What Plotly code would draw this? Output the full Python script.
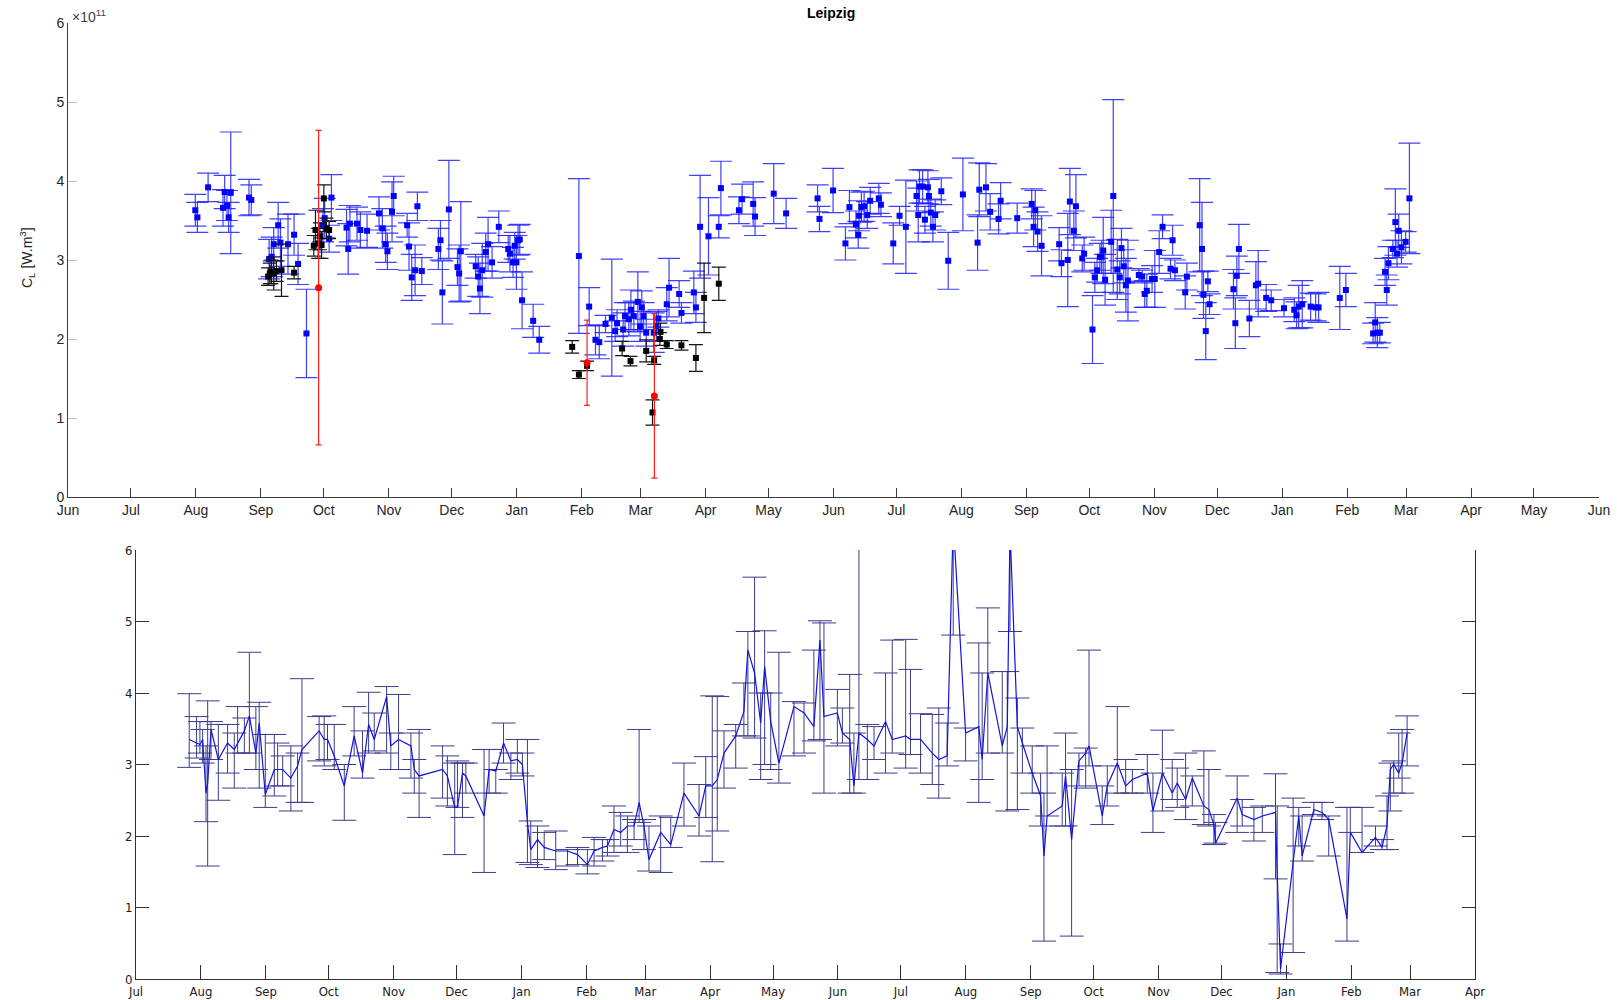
import pandas as pd
import plotly.graph_objects as go

BASE = pd.Timestamp("2012-06-01")

# ---------------- top panel (days since 2012-06-01, values in 1e11) -------------
blue_day = [60.7, 61.7, 66.8, 73.9, 74.7, 75.8, 76.6, 77.6, 86.3, 87.4, 95.9, 97.1, 98.1, 100.2,
            101.3, 104.9, 107.8, 109.7, 113.7, 121.6, 122.4, 124.5, 125.6, 132.8, 133.6, 134.4,
            137.8, 139.4, 142.6, 148.3, 149.9, 151.5, 152.3, 154.5, 155.3, 161.7, 162.6, 163.9,
            165.5, 166.6, 168.7, 176.6, 177.6, 178.5, 181.6, 185.7, 186.5, 187.3, 194.4, 195.6,
            196.4, 197.5, 199.2, 200.3, 202.2, 205.4, 209.9, 210.7, 212.2, 213.0, 213.8, 214.6,
            215.4, 216.5, 221.8, 224.7,
            243.6, 248.5, 251.5, 253.3, 256.3, 259.3, 260.9, 261.8, 264.7, 265.6, 267.4, 268.4,
            269.8, 271.7, 272.8, 273.6, 274.5, 275.7, 279.3, 280.6, 281.5, 285.5, 286.6, 291.4,
            292.5, 298.4, 299.4, 301.4, 305.4, 310.3, 311.3, 319.9, 321.4, 326.7, 327.6, 336.5,
            342.4, 357.4, 358.3, 364.8, 370.7, 372.6, 375.7, 376.8, 377.2, 378.3, 379.6, 381.1,
            382.5, 386.6, 387.6, 393.5, 396.5, 399.5, 404.6, 405.4, 406.0, 407.5, 408.6, 410.0,
            410.5, 411.4, 412.4, 413.5, 416.4, 419.7, 426.7, 433.7, 434.5, 437.7, 439.7, 443.7,
            444.7, 452.6, 459.5, 460.4, 461.2, 462.3, 464.2,
            472.6, 473.7, 476.7, 477.7, 479.6, 480.6, 483.6, 484.5, 488.5, 489.6, 490.7, 492.0,
            492.8, 493.6, 494.5, 497.4, 498.4, 500.3, 501.5, 502.3, 503.4, 504.4, 505.4, 510.6,
            512.2, 513.4, 514.4, 516.9, 518.2, 520.3, 521.9, 525.7, 526.7, 527.8, 532.7, 533.5,
            539.6, 540.7, 541.4, 542.5, 543.5, 544.3, 555.7, 556.6, 557.3, 558.3, 563.3, 566.4,
            567.5, 571.3, 573.7, 579.8, 584.7, 585.8, 586.8, 588.5, 592.5, 594.9, 596.3, 606.4,
            609.3, 622.3, 623.3, 624.3, 625.5, 628.0, 628.8, 629.6, 631.7, 632.9, 633.7, 634.5,
            635.8, 637.8, 639.6]
blue_val = [3.63, 3.54, 3.92, 3.66, 3.86, 3.69, 3.54, 3.85, 3.79, 3.76, 3.01, 3.04, 3.20, 3.44,
            3.22, 3.20, 3.32, 2.95, 2.07, 3.44, 3.53, 3.27, 3.79, 3.41, 3.14, 3.46,
            3.46, 3.38, 3.37, 3.59, 3.40, 3.20, 3.11, 3.61, 3.81, 3.44, 3.17, 2.78,
            2.87, 3.68, 2.86, 3.14, 3.25, 2.59, 3.64, 2.91, 2.83, 3.11, 2.92, 2.79,
            2.64, 2.87, 3.10, 3.20, 2.97, 3.42, 3.14, 3.08, 2.97, 3.18, 2.97, 3.25,
            3.26, 2.49, 2.23, 1.99,
            3.05, 2.41, 1.99, 1.96, 2.19, 2.27, 2.10, 2.20, 2.12, 2.29, 2.25, 2.37,
            2.29, 2.47, 2.16, 2.40, 2.29, 2.08, 2.08, 2.16, 2.26, 2.44, 2.65, 2.57,
            2.33, 2.59, 2.40, 3.42, 3.30, 3.42, 3.91, 3.63, 3.77, 3.71, 3.55, 3.84,
            3.59, 3.78, 3.52, 3.88, 3.21, 3.67, 3.45, 3.32, 3.56, 3.67, 3.68, 3.57,
            3.75, 3.78, 3.70, 3.21, 3.56, 3.42, 3.81, 3.57, 3.93, 3.93, 3.51, 3.92,
            3.81, 3.60, 3.42, 3.57, 3.87, 2.99, 3.83, 3.22, 3.89, 3.92, 3.61, 3.52,
            3.75, 3.53, 3.71, 3.42, 3.63, 3.36, 3.18,
            3.20, 2.96, 3.00, 3.74, 3.37, 3.68, 3.02, 3.08, 2.12, 2.78, 2.87, 3.04,
            3.04, 3.12, 2.75, 3.23, 3.81, 2.88, 2.78, 3.15, 2.92, 2.68, 2.74, 2.81,
            2.79, 2.57, 2.61, 2.76, 2.76, 3.10, 3.42, 2.89, 3.25, 2.87, 2.59, 2.79,
            3.44, 3.14, 2.56, 2.10, 2.73, 2.44, 2.63, 2.20, 2.80, 3.14, 2.26, 2.68,
            2.70, 2.52, 2.49, 2.39, 2.37, 2.30, 2.41, 2.44, 2.41, 2.40, 2.40, 2.52,
            2.62, 2.07, 2.21, 2.08, 2.08, 2.85, 2.62, 2.96, 3.14, 3.48, 3.08, 3.37,
            3.16, 3.23, 3.78]
blue_err = [0.20, 0.19, 0.18, 0.23, 0.21, 0.19, 0.19, 0.77, 0.23, 0.19, 0.25, 0.25, 0.21, 0.29,
            0.30, 0.38, 0.26, 0.26, 0.56, 0.21, 0.25, 0.17, 0.29, 0.23, 0.32, 0.23,
            0.21, 0.23, 0.21, 0.21, 0.25, 0.23, 0.23, 0.38, 0.25, 0.15, 0.30, 0.29,
            0.32, 0.18, 0.17, 0.26, 0.25, 0.40, 0.62, 0.23, 0.36, 0.63, 0.15, 0.25,
            0.32, 0.34, 0.24, 0.34, 0.20, 0.20, 0.17, 0.23, 0.19, 0.17, 0.34, 0.19,
            0.19, 0.36, 0.21, 0.17,
            0.98, 0.24, 0.19, 0.21, 0.11, 0.74, 0.13, 0.17, 0.21, 0.17, 0.21, 0.25,
            0.19, 0.38, 0.19, 0.21, 0.17, 0.17, 0.25, 0.19, 0.11, 0.21, 0.37, 0.17,
            0.13, 0.27, 0.19, 0.65, 0.49, 0.14, 0.34, 0.17, 0.19, 0.28, 0.24, 0.38,
            0.19, 0.17, 0.16, 0.28, 0.21, 0.21, 0.17, 0.17, 0.19, 0.19, 0.19, 0.17,
            0.17, 0.19, 0.15, 0.26, 0.12, 0.59, 0.19, 0.34, 0.21, 0.21, 0.17, 0.21,
            0.21, 0.17, 0.19, 0.19, 0.17, 0.36, 0.46, 0.35, 0.34, 0.30, 0.23, 0.19,
            0.23, 0.19, 0.19, 0.25, 0.25, 0.25, 0.38,
            0.21, 0.17, 0.59, 0.42, 0.25, 0.40, 0.17, 0.21, 0.43, 0.19, 0.15, 0.17,
            0.21, 0.42, 0.32, 0.40, 1.22, 0.38, 0.21, 0.25, 0.21, 0.34, 0.51, 0.08,
            0.08, 0.17, 0.21, 0.17, 0.36, 0.27, 0.15, 0.13, 0.19, 0.13, 0.21, 0.17,
            0.59, 0.59, 0.30, 0.36, 0.13, 0.13, 0.25, 0.32, 0.25, 0.31, 0.23, 0.30,
            0.42, 0.17, 0.13, 0.11, 0.15, 0.17, 0.27, 0.30, 0.17, 0.17, 0.19, 0.40,
            0.21, 0.13, 0.25, 0.19, 0.13, 0.17, 0.19, 0.21, 0.11, 0.42, 0.17, 0.21,
            0.21, 0.13, 0.70]

black_day = [95.4, 96.2, 97.0, 98.1, 99.4, 101.8, 107.8, 117.2, 118.0, 119.3, 120.1, 120.9,
             122.0, 123.2, 124.5, 240.4, 243.6, 247.5, 264.2, 268.2, 275.7, 278.7, 279.5,
             282.2, 282.5, 285.5, 292.5, 299.4, 303.3, 310.3]
black_val = [2.79, 2.83, 2.85, 2.83, 2.86, 2.87, 2.84, 3.18, 3.38, 3.21, 3.30, 3.19,
             3.78, 3.40, 3.38, 1.90, 1.55, 1.66, 1.88, 1.72, 1.85, 1.07, 1.73,
             2.00, 2.09, 1.93, 1.92, 1.76, 2.52, 2.70]
black_err = [0.11, 0.13, 0.15, 0.21, 0.13, 0.33, 0.08, 0.13, 0.25, 0.19, 0.17, 0.17,
             0.17, 0.13, 0.11, 0.08, 0.05, 0.06, 0.09, 0.06, 0.14, 0.16, 0.05,
             0.08, 0.11, 0.05, 0.06, 0.17, 0.44, 0.21]

red_day = [119.5, 247.5, 279.6]
red_val = [2.65, 1.70, 1.28]
red_err = [1.99, 0.54, 1.04]

# ---------------- bottom panel (days since 2012-06-01) -------------------------
bot_day = [55.4, 58.9, 60.5, 61.8, 63.4, 64.2, 65.8, 69.3, 73.7, 76.9, 78.5, 81.7, 84.1, 87.2,
           88.8, 91.7, 96.0, 97.6, 100.0, 103.9, 107.1, 109.2, 117.4, 119.8, 121.4, 124.6,
           129.4, 134.1, 138.1, 141.0, 143.7, 149.6, 151.6, 155.3, 161.2, 162.8, 165.1, 176.3,
           178.6, 182.1, 183.4, 185.8, 187.4, 196.1, 198.5, 201.7, 205.4, 208.9, 212.0, 214.4,
           216.8, 218.4, 221.6, 224.8, 230.3, 235.9, 240.7,
           245.4, 248.6, 252.6, 255.0, 258.1, 261.3, 264.5, 267.7, 270.1, 272.4, 274.8, 280.4,
           285.2, 291.5, 298.7, 301.9, 305.0, 307.4, 310.6, 316.2, 320.1, 322.0, 325.2, 328.1,
           330.0, 332.9, 336.8, 344.0, 348.8, 353.5, 356.4, 358.3, 364.7, 367.1, 370.6, 372.6,
           375.0, 379.0, 382.2, 387.7, 390.9, 397.3, 399.6, 404.4, 410.0, 413.1, 417.1, 420.0,
           425.9, 432.2, 433.8, 436.5, 443.4, 445.8, 447.1, 450.6, 453.0,
           457.7, 461.7, 463.3, 464.8, 472.0, 473.6, 476.5, 480.0, 483.2, 484.8, 491.1, 493.5,
           498.3, 502.3, 505.5, 512.6, 515.3, 519.8, 524.5, 526.9, 530.9, 534.1, 539.6, 542.0,
           544.4, 545.2, 555.5, 557.9, 563.5, 567.5, 573.8, 574.6, 576.2, 582.2, 584.9, 586.5,
           592.1, 596.0, 599.2, 607.9, 609.5, 615.1, 621.5, 624.6, 627.0, 628.6, 630.2, 632.6,
           634.2, 636.6]
bot_val = [3.35, 3.30, 3.28, 3.35, 2.60, 2.74, 3.49, 3.07, 3.30, 3.21, 3.30, 3.47, 3.68, 3.16,
           3.58, 2.58, 2.93, 2.93, 2.93, 2.81, 2.98, 3.21, 3.47, 3.35, 3.35, 3.12,
           2.70, 3.40, 2.88, 3.56, 3.35, 3.95, 3.26, 3.35, 3.26, 2.93, 2.84, 2.93,
           2.84, 2.40, 2.40, 2.88, 2.84, 2.28, 2.93, 2.91, 3.30, 3.05, 3.07, 3.00,
           2.19, 1.81, 1.95, 1.84, 1.79, 1.79, 1.74,
           1.60, 1.79, 1.84, 1.86, 2.09, 2.05, 2.14, 2.14, 2.47, 2.14, 1.67, 2.05,
           1.88, 2.60, 2.28, 2.70, 2.70, 2.79, 3.16, 3.40, 3.74, 4.60, 4.28, 3.58,
           4.37, 3.60, 3.02, 3.81, 3.72, 3.53, 4.74, 3.67, 3.72, 3.44, 3.35, 2.70,
           3.44, 3.35, 3.26, 3.60, 3.35, 3.40, 3.35, 3.35, 3.16, 3.07, 3.12, 6.40,
           3.44, 3.53, 3.07, 4.28, 3.26, 3.53, 6.30, 3.53, 3.30,
           2.88, 2.56, 1.72, 2.28, 2.42, 2.84, 1.95, 3.05, 3.16, 3.26, 2.28, 2.70,
           3.02, 2.70, 2.79, 2.88, 2.35, 2.88, 2.60, 2.74, 2.51, 2.81, 2.42, 2.37,
           2.16, 1.90, 2.53, 2.30, 2.23, 2.28, 2.33, 1.49, 0.14, 1.63, 2.28, 1.72,
           2.37, 2.33, 2.23, 0.84, 2.05, 1.77, 1.98, 1.84, 2.14, 2.93, 3.00, 2.88,
           3.02, 3.44]
bot_top = [3.99, 3.67, 3.60, 3.49, 3.26, 3.89, 3.60, 3.56, 3.56, 3.44, 3.81, 3.65, 4.57, 3.81,
           3.87, 3.42, 3.42, 3.30, 3.12, 3.26, 3.16, 4.20, 3.67, 3.68, 3.56, 3.56,
           3.00, 3.81, 3.47, 4.01, 3.72, 4.09, 3.44, 3.98, 3.44, 3.07, 3.49, 3.26,
           3.12, 3.02, 3.05, 3.02, 3.02, 3.21, 3.21, 2.93, 3.58, 3.16, 3.35, 3.16,
           3.35, 2.21, 2.14, 2.05, 2.07, 1.81, 1.84,
           1.81, 1.98, 1.95, 1.95, 2.42, 2.33, 2.28, 2.23, 3.49, 2.23, 2.14, 2.28,
           2.26, 3.02, 2.72, 3.11, 3.96, 3.95, 3.47, 3.56, 4.14, 4.86, 5.62, 4.00,
           4.87, 4.00, 4.57, 3.88, 3.86, 4.60, 5.01, 4.98, 4.05, 3.79, 4.26, 3.44,
           7.50, 3.56, 3.53, 4.28, 4.74, 4.75, 4.33, 3.71, 3.70, 3.79, 3.58, 7.60,
           3.51, 4.70, 4.28, 5.19, 4.30, 4.30, 7.50, 3.93, 3.51,
           3.26, 2.88, 2.60, 3.26, 2.88, 3.44, 2.93, 3.16, 3.23, 4.60, 2.70, 2.98,
           3.81, 3.07, 2.93, 3.14, 2.88, 3.48, 3.07, 2.95, 3.16, 2.84, 3.19, 2.93,
           2.30, 2.19, 2.84, 2.51, 2.40, 2.42, 2.87, 2.42, 0.49, 2.53, 2.40, 2.28,
           2.47, 2.47, 2.28, 2.40, 2.40, 2.40, 2.14, 1.95, 2.56, 3.02, 3.05, 3.44,
           3.49, 3.68]
bot_bot = [2.96, 3.09, 3.16, 3.02, 2.20, 1.58, 3.07, 2.50, 2.88, 2.67, 3.16, 3.16, 3.16, 2.93,
           2.67, 2.40, 2.56, 2.70, 2.70, 2.35, 2.47, 2.47, 3.05, 2.98, 3.07, 2.93,
           2.22, 3.12, 2.81, 3.16, 3.19, 3.16, 2.93, 2.93, 2.81, 2.60, 2.26, 2.53,
           2.42, 1.74, 2.40, 2.26, 2.60, 1.49, 2.60, 2.60, 3.02, 2.79, 2.88, 2.84,
           1.63, 1.60, 1.56, 1.67, 1.53, 1.58, 1.60,
           1.47, 1.58, 1.65, 1.72, 1.77, 1.86, 1.77, 1.95, 2.19, 1.81, 1.51, 1.49,
           1.84, 2.14, 2.00, 2.26, 1.64, 2.07, 2.67, 2.95, 3.40, 3.40, 3.37, 2.79,
           3.00, 2.93, 2.74, 3.12, 3.16, 3.33, 3.35, 2.60, 3.26, 3.30, 2.60, 2.60,
           2.79, 2.79, 3.07, 2.88, 3.16, 2.95, 3.14, 2.88, 2.72, 2.53, 2.98, 4.81,
           3.05, 2.47, 2.79, 3.16, 3.16, 2.35, 4.86, 2.37, 2.88,
           2.60, 2.14, 0.53, 2.28, 2.14, 2.14, 0.60, 2.70, 2.67, 2.98, 2.16, 2.42,
           2.60, 2.60, 2.60, 2.60, 2.05, 2.35, 2.51, 2.40, 2.23, 2.42, 2.16, 2.14,
           1.88, 1.90, 2.05, 2.14, 1.93, 2.05, 1.40, 0.09, 0.07, 0.37, 1.86, 1.65,
           2.30, 2.23, 1.72, 0.53, 2.05, 1.77, 1.86, 1.81, 1.81, 2.35, 2.60, 2.81,
           2.60, 2.98]

# ---------------- axis ticks / labels -------------------------------------------
top_range = ["2012-06-01", "2014-06-01"]
bot_range = ["2012-07-01", "2014-04-01"]
y_ticks = [0, 1, 2, 3, 4, 5, 6]


def to_dates(days):
    return [BASE + pd.Timedelta(days=float(d)) for d in days]


fig = go.Figure()

BLUE = "rgb(0,0,255)"
fig.add_trace(go.Scatter(
    x=to_dates(blue_day), y=blue_val, mode="markers",
    marker=dict(symbol="square", size=6, color=BLUE),
    error_y=dict(type="data", array=blue_err, color="rgba(30,30,255,0.85)", thickness=1.2, width=11),
    xaxis="x", yaxis="y", showlegend=False))
fig.add_trace(go.Scatter(
    x=to_dates(black_day), y=black_val, mode="markers",
    marker=dict(symbol="square", size=6, color="black"),
    error_y=dict(type="data", array=black_err, color="rgb(20,20,20)", thickness=1.2, width=7),
    xaxis="x", yaxis="y", showlegend=False))
fig.add_trace(go.Scatter(
    x=to_dates(red_day), y=red_val, mode="markers",
    marker=dict(symbol="circle", size=7, color="red"),
    error_y=dict(type="data", array=red_err, color="rgb(255,30,30)", thickness=1.2, width=3),
    xaxis="x", yaxis="y", showlegend=False))

err_plus = [t - v for t, v in zip(bot_top, bot_val)]
err_minus = [v - b for v, b in zip(bot_val, bot_bot)]
fig.add_trace(go.Scatter(
    x=to_dates(bot_day), y=bot_val, mode="lines",
    line=dict(color="rgb(20,20,220)", width=1.2),
    error_y=dict(type="data", symmetric=False, array=err_plus, arrayminus=err_minus,
                 color="rgb(60,60,140)", thickness=1, width=12),
    xaxis="x2", yaxis="y2", showlegend=False))

# the page body margin is removed (see post_script), so the figure fills the window
W, H = 1623, 1000


def px(x):
    return x / W


def py(y):
    return 1 - y / H


axis_col = "#3a3a3a"
tick_font = dict(family="Liberation Sans, Arial, sans-serif", size=14, color="#262626")
narrow_font = dict(family="Liberation Sans Narrow, Arial Narrow, DejaVu Sans Condensed, sans-serif",
                   size=13, color="#202020")

fig.update_layout(
    template="none",
    width=W, height=H, margin=dict(l=0, r=0, t=0, b=0, pad=0), autosize=False,
    paper_bgcolor="white", plot_bgcolor="white",
    xaxis=dict(domain=[px(68), px(1599)], anchor="y", type="date", range=top_range,
               tick0="2012-06-01", dtick="M1", tickformat="%b", ticks="inside", ticklen=9,
               tickcolor=axis_col, showline=True, linecolor=axis_col, linewidth=1,
               showgrid=False, zeroline=False, tickfont=tick_font, automargin=False),
    yaxis=dict(domain=[py(497), py(23)], anchor="x", range=[0, 6], tickvals=y_ticks,
               ticks="inside", ticklen=9, tickcolor="#c0c0c0", showline=True, linecolor=axis_col,
               linewidth=1, showgrid=False, zeroline=False, tickfont=tick_font, automargin=False),
    xaxis2=dict(domain=[px(136), px(1475)], anchor="y2", type="date", range=bot_range,
                tick0="2012-07-01", dtick="M1", tickformat="%b", ticks="inside", ticklen=14,
                tickcolor="#303030", showline=True, linecolor="#303030", linewidth=1,
                showgrid=False, zeroline=False, tickfont=narrow_font, automargin=False),
    yaxis2=dict(domain=[py(979), py(550)], anchor="x2", range=[0, 6], tickvals=y_ticks,
                ticks="inside", ticklen=13, tickcolor="#303030", showline=True,
                linecolor="#303030", linewidth=1, mirror="ticks", showgrid=False,
                zeroline=False, tickfont=narrow_font, automargin=False),
)

fig.add_annotation(text="<b>Leipzig</b>", xref="paper", yref="paper", x=px(831), y=py(13),
                   showarrow=False, font=dict(family="Liberation Sans, Arial, sans-serif",
                                              size=14, color="black"),
                   xanchor="center", yanchor="middle")
fig.add_annotation(text="×10<sup>11</sup>", xref="paper", yref="paper", x=px(70), y=py(16),
                   showarrow=False, font=dict(family="Liberation Sans, Arial, sans-serif",
                                              size=14, color="#404040"),
                   xanchor="left", yanchor="middle")
fig.add_annotation(text="C<sub>L</sub> [W.m<sup>3</sup>]", xref="paper", yref="paper",
                   x=px(27), y=py(258), textangle=-90, showarrow=False,
                   font=dict(family="Liberation Sans, Arial, sans-serif", size=14, color="#262626"),
                   xanchor="center", yanchor="middle")

fig.write_html(
    "out.html",
    config={"displayModeBar": False},
    post_script="document.body.style.margin='0';document.body.style.overflow='hidden';",
)
